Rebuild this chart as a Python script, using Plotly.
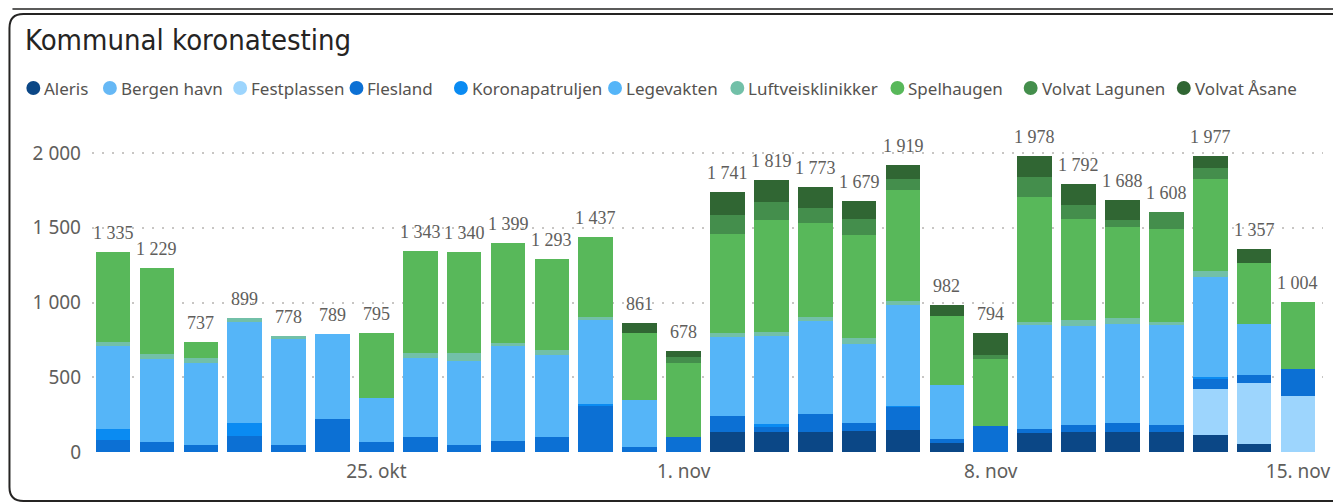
import pandas as pd
import plotly.graph_objects as go

dates = pd.date_range("2020-10-19", "2020-11-15", freq="D")

series = ["Aleris", "Bergen havn", "Festplassen", "Flesland", "Koronapatruljen",
          "Legevakten", "Luftveisklinikker", "Spelhaugen", "Volvat Lagunen", "Volvat Åsane"]
colors = ["#0B4786", "#66B8F5", "#9DD5FD", "#0C70D4", "#0A8BF2",
          "#55B5F8", "#72C0A8", "#58B85A", "#448E4C", "#306633"]

aleris = [0] * 14 + [134, 134, 134, 143, 149, 58, 0, 129, 136, 136, 136, 114, 53, 0]
bergen_havn = [0] * 28
festplassen = [0] * 25 + [305, 407, 375]
flesland = [80, 67, 45, 109, 45, 221, 67, 100, 45, 74, 100, 314, 36, 100,
            107, 35, 120, 49, 154, 27, 174, 23, 43, 56, 43, 71, 55, 178]
koronapatruljen = [76, 0, 0, 85, 0, 0, 0, 0, 0, 0, 0, 9, 0, 0,
                   0, 18, 0, 0, 5, 0, 0, 0, 0, 0, 0, 14, 0, 0]
legevakten = [553, 557, 552, 678, 709, 568, 294, 531, 564, 635, 551, 560, 312, 0,
              530, 591, 622, 532, 675, 361, 0, 697, 664, 664, 670, 669, 341, 0]
luftvei = [27, 31, 34, 27, 24, 0, 0, 31, 53, 20, 33, 20, 0, 0,
           27, 27, 27, 39, 27, 0, 0, 21, 40, 40, 21, 36, 0, 0]
spelhaugen = [599, 574, 106, 0, 0, 0, 434, 681, 678, 670, 609, 534, 450, 493,
              663, 747, 631, 691, 742, 466, 450, 838, 678, 609, 620, 619, 406, 451]
lagunen = [0] * 13 + [45, 126, 122, 96, 104, 76, 0, 25, 134, 91, 47, 118, 70, 0, 0]
asane = [0] * 12 + [63, 40, 154, 145, 143, 121, 91, 70, 145, 136, 140, 136, 0, 79, 95, 0]

values = [aleris, bergen_havn, festplassen, flesland, koronapatruljen,
          legevakten, luftvei, spelhaugen, lagunen, asane]
totals = [sum(v) for v in zip(*values)]

tick_dates = ["2020-10-25", "2020-11-01", "2020-11-08", "2020-11-15"]
tick_text = ["25. okt", "1. nov", "8. nov", "15. nov"]

# page has an 8px body margin, so work in figure pixels (screen - 8)
W, H = 1333, 495
L, R, T, B = 84, 1322, 122, 444


def px(x):
    return (x - L) / (R - L)


def py(y):
    return (B - y) / (B - T)


fig = go.Figure()
for name, col, vals in zip(series, colors, values):
    fig.add_trace(go.Bar(x=dates, y=vals, name=name, marker_color=col,
                         marker_line_width=0, showlegend=False))

annotations = []
for d, t in zip(dates, totals):
    annotations.append(dict(x=d, y=t, text=f"{t:,}".replace(",", " "),
                            xref="x", yref="y", yanchor="bottom", yshift=7,
                            showarrow=False,
                            font=dict(family="Liberation Serif", size=18, color="#605E5C")))

# legend drawn by hand (Power BI style dots)
legend_x = [18, 95, 226, 343, 448, 603, 726, 887, 1021, 1175]
shapes = []
for name, col, lx in zip(series, colors, legend_x):
    shapes.append(dict(type="circle", xref="paper", yref="paper",
                       x0=px(lx), x1=px(lx + 14), y0=py(87), y1=py(73),
                       fillcolor=col, line_width=0))
    annotations.append(dict(text=name, xref="paper", yref="paper",
                            x=px(lx + 16), y=py(80), xanchor="left", yanchor="middle",
                            showarrow=False,
                            font=dict(family="Segoe UI, Noto Sans", size=17, color="#555350")))

# outer frame
r = 14
x0, x1, y0, y1 = 1, 1345, 6, 493
path = (f"M {px(x0)},{py(y0 + r)} Q {px(x0)},{py(y0)} {px(x0 + r)},{py(y0)} "
        f"L {px(x1)},{py(y0)} L {px(x1)},{py(y1)} L {px(x0 + r)},{py(y1)} "
        f"Q {px(x0)},{py(y1)} {px(x0)},{py(y1 - r)} Z")
shapes.append(dict(type="path", path=path, xref="paper", yref="paper",
                   line=dict(color="#252423", width=2), fillcolor="rgba(0,0,0,0)"))
shapes.append(dict(type="line", xref="paper", yref="paper",
                   x0=px(4), x1=px(1340), y0=py(1), y1=py(1),
                   line=dict(color="#252423", width=1.5)))

day = pd.Timedelta(days=1)
fig.update_layout(
    width=W, height=H,
    margin=dict(l=L, r=W - R, t=T, b=H - B),
    barmode="stack", bargap=0.21,
    paper_bgcolor="white", plot_bgcolor="white",
    separators=", ",
    title=dict(text="Kommunal koronatesting", x=17 / W, xanchor="left",
               y=1 - 32 / H, yanchor="middle",
               font=dict(family="DejaVu Sans Condensed", size=29, color="#252423")),
    xaxis=dict(type="date", range=[dates[0] - 0.48 * day, dates[-1] + 0.57 * day],
               tickvals=tick_dates, ticktext=tick_text, showgrid=False,
               tickfont=dict(family="Segoe UI, Noto Sans", size=19, color="#605E5C"),
               ticks="", showline=False, ticklabelstandoff=6),
    yaxis=dict(range=[0, 2154], tickvals=[0, 500, 1000, 1500, 2000], tickformat=",d",
               showgrid=True, gridcolor="#C8C6C4", griddash="2px,8px", gridwidth=1.5,
               zeroline=False, ticklabelstandoff=10,
               tickfont=dict(family="Segoe UI, Noto Sans", size=19, color="#605E5C")),
    shapes=shapes, annotations=annotations,
)

fig.write_html("out.html")
